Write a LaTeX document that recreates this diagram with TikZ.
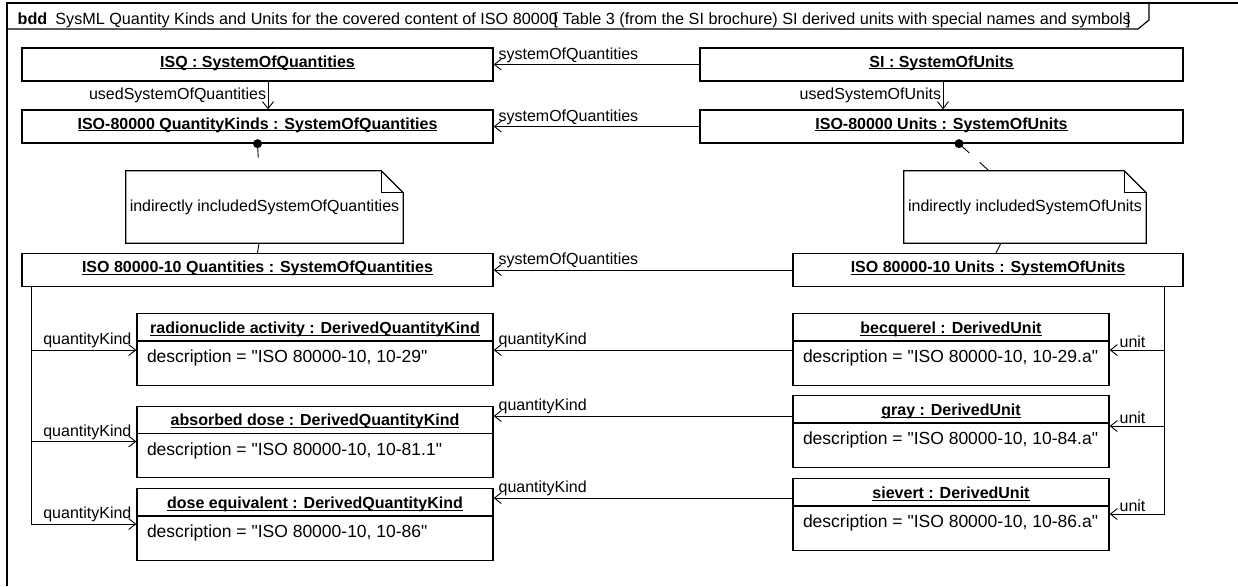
\documentclass[tikz,border=0pt]{standalone}
\usepackage{fontspec}
\setmainfont{Liberation Sans}
\usetikzlibrary{arrows.meta,shapes.multipart}

\newcommand{\uname}[1]{\underline{\smash{#1}}}
\newcommand{\desctext}[1]{\mdseries\fontsize{17.5}{21}\selectfont\rule[-22pt]{0pt}{43pt}#1}
\newcommand{\q}{\textquotedbl}

\begin{document}
\begin{tikzpicture}[x=1pt,y=-1pt,
      frame/.style={line width=1.2pt},
      box/.style={draw,line width=1.3pt,inner xsep=4pt,inner ysep=0pt,
                  font=\fontsize{16}{19}\selectfont\bfseries,
                  execute at begin node={\rule[-14pt]{0pt}{33pt}}},
      inst/.style={draw,line width=1.3pt,rectangle split,rectangle split parts=2,
                  rectangle split part align={center,left},
                  inner xsep=10pt,inner ysep=0pt,
                  font=\fontsize{16}{19}\selectfont\bfseries,
                  execute at begin node={\rule[-7pt]{0pt}{26pt}}},
      note/.style={inner xsep=1pt,minimum height=72pt,
                   font=\fontsize{16}{19}\selectfont},
      noteline/.style={line width=1.2pt},
      lbl/.style={inner sep=1.5pt,font=\fontsize{16}{19}\selectfont},
      arr/.style={-{Straight Barb[length=7pt,width=11pt]},line width=0.9pt},
      link/.style={line width=0.9pt,dash pattern=on 14pt off 14pt}
    ]
    \useasboundingbox (0,0) rectangle (1238,586);
    % diagram frame and header
    \draw[frame] (7,586) -- (7,3) -- (1238,3);
    \draw[frame] (7,29) -- (1138,29) -- (1149,20) -- (1149,3);
    \node[lbl, anchor=base west, font=\fontsize{16.2}{19}\selectfont] (hdr) at (16,25) {\textbf{bdd}\hspace{8pt}SysML Quantity Kinds and Units for the covered content of ISO 8000\rlap{0}\kern0.3em[ Table 3 (from the SI brochure) SI derived units with special names and symbol\rlap{s}\kern0.2em]};
    % systems of quantities
    \node[box, minimum width=471pt] (isq) at (257.5,64.5) {\uname{ISQ : SystemOfQuantities}};
    \node[box, minimum width=471pt] (qk)  at (257.5,126.5) {\uname{ISO-80000 QuantityKinds : SystemOfQuantities}};
    \node[box, minimum width=471pt] (q10) at (257.5,270) {\uname{ISO 80000-10 Quantities : SystemOfQuantities}};
    % systems of units
    \node[box, minimum width=483pt] (si)   at (941.5,64.5) {\uname{SI : SystemOfUnits}};
    \node[box, minimum width=483pt] (isou) at (941.5,126.5) {\uname{ISO-80000 Units : SystemOfUnits}};
    \node[box, minimum width=390pt] (u10)  at (988,270) {\uname{ISO 80000-10 Units : SystemOfUnits}};
    % notes
    \node[note, minimum width=277pt] (nq) at (264.5,207) {indirectly includedSystemOfQuantities};
    \node[note, minimum width=242pt] (nu) at (1025,207) {indirectly includedSystemOfUnits};
    \draw[noteline] (nq.north west) -- ([xshift=-22pt]nq.north east) -- ([yshift=-22pt]nq.north east)
      -- (nq.south east) -- (nq.south west) -- cycle;
    \draw[noteline] ([xshift=-22pt]nq.north east) -- ([xshift=-22pt,yshift=-22pt]nq.north east)
      -- ([yshift=-22pt]nq.north east);
    \draw[noteline] (nu.north west) -- ([xshift=-22pt]nu.north east) -- ([yshift=-22pt]nu.north east)
      -- (nu.south east) -- (nu.south west) -- cycle;
    \draw[noteline] ([xshift=-22pt]nu.north east) -- ([xshift=-22pt,yshift=-22pt]nu.north east)
      -- ([yshift=-22pt]nu.north east);
    % quantity kinds
    \node[inst, minimum width=356pt] (radio) at (315,349.5) {\uname{radionuclide activity : DerivedQuantityKind}\nodepart{two}\desctext{description = \q ISO 80000-10, 10-29\q}};
    \node[inst, minimum width=356pt] (absd)  at (315,442) {\uname{absorbed dose : DerivedQuantityKind}\nodepart{two}\desctext{description = \q ISO 80000-10, 10-81.1\q}};
    \node[inst, minimum width=356pt] (doseq) at (315,524.5) {\uname{dose equivalent : DerivedQuantityKind}\nodepart{two}\desctext{description = \q ISO 80000-10, 10-86\q}};
    % units
    \node[inst, minimum width=316pt] (bq)   at (951,349.5) {\uname{becquerel : DerivedUnit}\nodepart{two}\desctext{description = \q ISO 80000-10, 10-29.a\q}};
    \node[inst, minimum width=316pt] (gray) at (951,431.5) {\uname{gray : DerivedUnit}\nodepart{two}\desctext{description = \q ISO 80000-10, 10-84.a\q}};
    \node[inst, minimum width=316pt] (sv)   at (951,514.5) {\uname{sievert : DerivedUnit}\nodepart{two}\desctext{description = \q ISO 80000-10, 10-86.a\q}};
    % used systems
    \draw[arr] ([xshift=10.5pt]isq.south) -- node[lbl, anchor=east] (lbl-usq) {usedSystemOfQuantities} ([xshift=10.5pt]qk.north);
    \draw[arr] ([xshift=1.5pt]si.south) -- node[lbl, anchor=east] (lbl-usu) {usedSystemOfUnits} ([xshift=1.5pt]isou.north);
    % systemOfQuantities links
    \draw[arr] (si) -- node[lbl, pos=1, anchor=south west, xshift=3pt] (lbl-soq1) {systemOfQuantities} (isq);
    \draw[arr] (isou) -- node[lbl, pos=1, anchor=south west, xshift=3pt] (lbl-soq2) {systemOfQuantities} (qk);
    \draw[arr] (u10) -- node[lbl, pos=1, anchor=south west, xshift=3pt] (lbl-soq3) {systemOfQuantities} (q10);
    % note anchors
    \fill (qk.south) circle (4.5pt);
    \draw[link] (qk.south) -- ([xshift=-5.5pt]nq.north);
    \draw[link] ([xshift=-5.5pt]nq.south) -- (q10.north);
    \fill ([xshift=17.5pt]isou.south) circle (4.5pt);
    \draw[link] ([xshift=17.5pt]isou.south) -- ([xshift=-36pt]nu.north);
    \draw[link] ([xshift=-24pt]nu.south) -- ([xshift=8pt]u10.north);
    % quantityKind from the system of quantities
    \draw[arr] ([xshift=10pt]q10.south west) |- node[lbl, pos=1, anchor=south east, xshift=-3pt] (lbl-qk1) {quantityKind} ([yshift=-37pt]radio.north west);
    \draw[arr] ([xshift=10pt]q10.south west) |- node[lbl, pos=1, anchor=south east, xshift=-3pt] (lbl-qk2) {quantityKind} ([yshift=-36pt]absd.north west);
    \draw[arr] ([xshift=10pt]q10.south west) |- node[lbl, pos=1, anchor=south east, xshift=-3pt] (lbl-qk3) {quantityKind} ([yshift=-36pt]doseq.north west);
    % quantityKind from the units
    \draw[arr] ([yshift=-37pt]bq.north west) -- node[lbl, pos=1, anchor=south west, xshift=3pt] (lbl-qk4) {quantityKind} ([yshift=-37pt]bq.north west -| radio.east);
    \draw[arr] ([yshift=-21pt]gray.north west) -- node[lbl, pos=1, anchor=south west, xshift=3pt] (lbl-qk5) {quantityKind} ([yshift=-21pt]gray.north west -| absd.east);
    \draw[arr] ([yshift=-20pt]sv.north west) -- node[lbl, pos=1, anchor=south west, xshift=3pt] (lbl-qk6) {quantityKind} ([yshift=-20pt]sv.north west -| doseq.east);
    % units of the system of units
    \draw[arr] ([xshift=-19pt]u10.south east) |- node[lbl, pos=1, anchor=south west, xshift=8pt] (lbl-u1) {unit} ([yshift=-37pt]bq.north east);
    \draw[arr] ([xshift=-19pt]u10.south east) |- node[lbl, pos=1, anchor=south west, xshift=8pt] (lbl-u2) {unit} ([yshift=-31pt]gray.north east);
    \draw[arr] ([xshift=-19pt]u10.south east) |- node[lbl, pos=1, anchor=south west, xshift=8pt] (lbl-u3) {unit} ([yshift=-36pt]sv.north east);
  \end{tikzpicture}
\end{document}
